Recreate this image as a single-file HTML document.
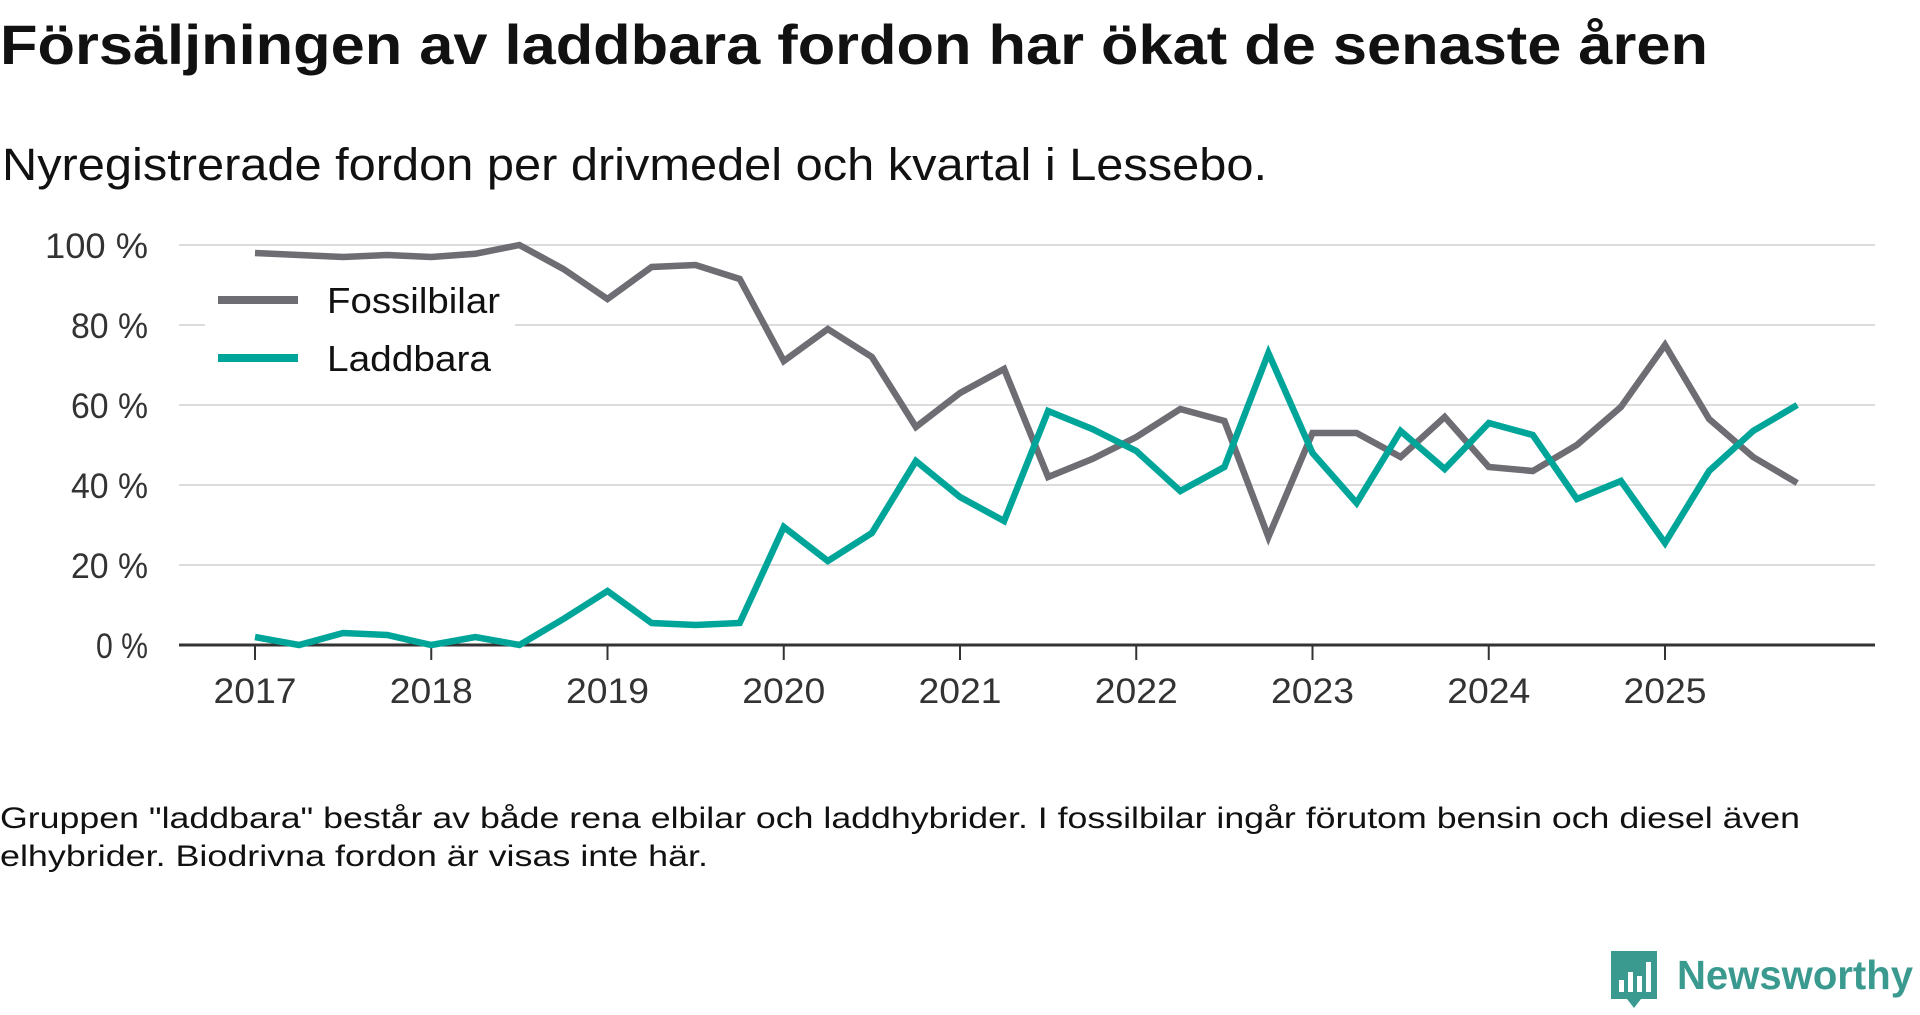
<!DOCTYPE html>
<html><head><meta charset="utf-8"><style>
body{margin:0;background:#fff;width:1920px;height:1010px;overflow:hidden;font-family:"Liberation Sans",sans-serif;color:#111}
</style></head><body>
<svg width="1920" height="1010" xmlns="http://www.w3.org/2000/svg" font-family="Liberation Sans, sans-serif">
<text x="0" y="64" font-size="56" font-weight="bold" fill="#111" textLength="1708" lengthAdjust="spacingAndGlyphs">Försäljningen av laddbara fordon har ökat de senaste åren</text>
<text x="2" y="180" font-size="45" fill="#111" textLength="1265" lengthAdjust="spacingAndGlyphs">Nyregistrerade fordon per drivmedel och kvartal i Lessebo.</text>
<g id="grid"></g>
<g id="xaxis"></g>
<g id="series"></g>
<g>
<rect x="205" y="270" width="310" height="115" fill="#fff"/>
<line x1="218" y1="300" x2="298" y2="300" stroke="#6e6d73" stroke-width="8"/>
<text x="327" y="313" font-size="36" fill="#111" textLength="173" lengthAdjust="spacingAndGlyphs">Fossilbilar</text>
<line x1="218" y1="358" x2="298" y2="358" stroke="#00a59a" stroke-width="8"/>
<text x="327" y="371" font-size="36" fill="#111" textLength="164" lengthAdjust="spacingAndGlyphs">Laddbara</text>
</g>
<text x="0" y="828" font-size="30" fill="#111" textLength="1800" lengthAdjust="spacingAndGlyphs">Gruppen "laddbara" består av både rena elbilar och laddhybrider. I fossilbilar ingår förutom bensin och diesel även</text>
<text x="0" y="866" font-size="30" fill="#111" textLength="708" lengthAdjust="spacingAndGlyphs">elhybrider. Biodrivna fordon är visas inte här.</text>
<g>
<path d="M1611 951 h46 v48 h-16 l-7 9 l-7 -9 h-16 z" fill="#3a9a8f"/>
<rect x="1619" y="980" width="5" height="12" fill="#fff"/><rect x="1628" y="972" width="5" height="20" fill="#fff"/><rect x="1637" y="976" width="5" height="16" fill="#fff"/><rect x="1646" y="962" width="5" height="30" fill="#fff"/>
<text x="1677" y="989" font-size="41" font-weight="bold" fill="#3a9a8f" textLength="236" lengthAdjust="spacingAndGlyphs">Newsworthy</text>
</g>
</svg>
<script>
const yTicks = [0, 20, 40, 60, 80, 100];
const yTickLabels = ["0 %", "20 %", "40 %", "60 %", "80 %", "100 %"];
const xYears = [2017, 2018, 2019, 2020, 2021, 2022, 2023, 2024, 2025];
const fossil = [98, 97.5, 97, 97.5, 97, 97.8, 100, 94, 86.5, 94.5, 95, 91.5, 71, 79, 72, 54.5, 63, 69, 42, 46.5, 52, 59, 56, 27, 53, 53, 47, 57, 44.5, 43.5, 50, 59.5, 75, 56.5, 47, 40.5];
const laddbara = [2, 0, 3, 2.5, 0, 2, 0, 6.5, 13.5, 5.5, 5, 5.5, 29.5, 21, 28, 46, 37, 31, 58.5, 54, 48.5, 38.5, 44.5, 73, 48, 35.5, 53.5, 44, 55.5, 52.5, 36.5, 41, 25.5, 43.5, 53.5, 60];

const NS = "http://www.w3.org/2000/svg";
const L = 179, R = 1875, Y0 = 645, Y100 = 245, X2017 = 255, YEARW = 176.25;
const y = v => Y0 - (v / 100) * (Y0 - Y100);
const x = t => X2017 + t * YEARW;
function mk(tag, attrs, parent) { const e = document.createElementNS(NS, tag); for (const k in attrs) e.setAttribute(k, attrs[k]); parent.appendChild(e); return e; }

const grid = document.getElementById('grid');
yTicks.forEach((v, i) => {
  if (v > 0) {
    const gl = mk('line', {x1: L, x2: R, y1: y(v), y2: y(v), stroke: '#dcdcdc', 'stroke-width': 2}, grid);
    
    
  }
  const lbl = yTickLabels[i];
  const w = lbl.length === 5 ? 103 : (lbl.length === 4 ? 77 : 52);
  const t = mk('text', {x: 148, y: y(v) + 13, 'font-size': 35, fill: '#333', 'text-anchor': 'end', textLength: w, lengthAdjust: 'spacingAndGlyphs'}, grid);
  t.textContent = lbl;
  
  
});
const xa = document.getElementById('xaxis');
const ax = mk('line', {x1: L, x2: R, y1: Y0, y2: Y0, stroke: '#333', 'stroke-width': 3}, xa);


xYears.forEach((yr, i) => {
  const tk = mk('line', {x1: x(i), x2: x(i), y1: Y0, y2: Y0 + 15, stroke: '#333', 'stroke-width': 2}, xa);
  
  
  const t = mk('text', {x: x(i), y: Y0 + 58, 'font-size': 35, fill: '#333', 'text-anchor': 'middle', textLength: 83, lengthAdjust: 'spacingAndGlyphs'}, xa);
  t.textContent = yr;
  
  
});
const ser = document.getElementById('series');
function line(data, color, name) {
  const pts = data.map((v, i) => x(i / 4).toFixed(1) + ',' + y(v).toFixed(1)).join(' ');
  const p = mk('polyline', {points: pts, fill: 'none', stroke: color, 'stroke-width': 6.5, 'stroke-linejoin': 'miter'}, ser);
  
  
}
line(fossil, '#6e6d73', 'line-fossilbilar');
line(laddbara, '#00a59a', 'line-laddbara');
</script>
</body></html>
